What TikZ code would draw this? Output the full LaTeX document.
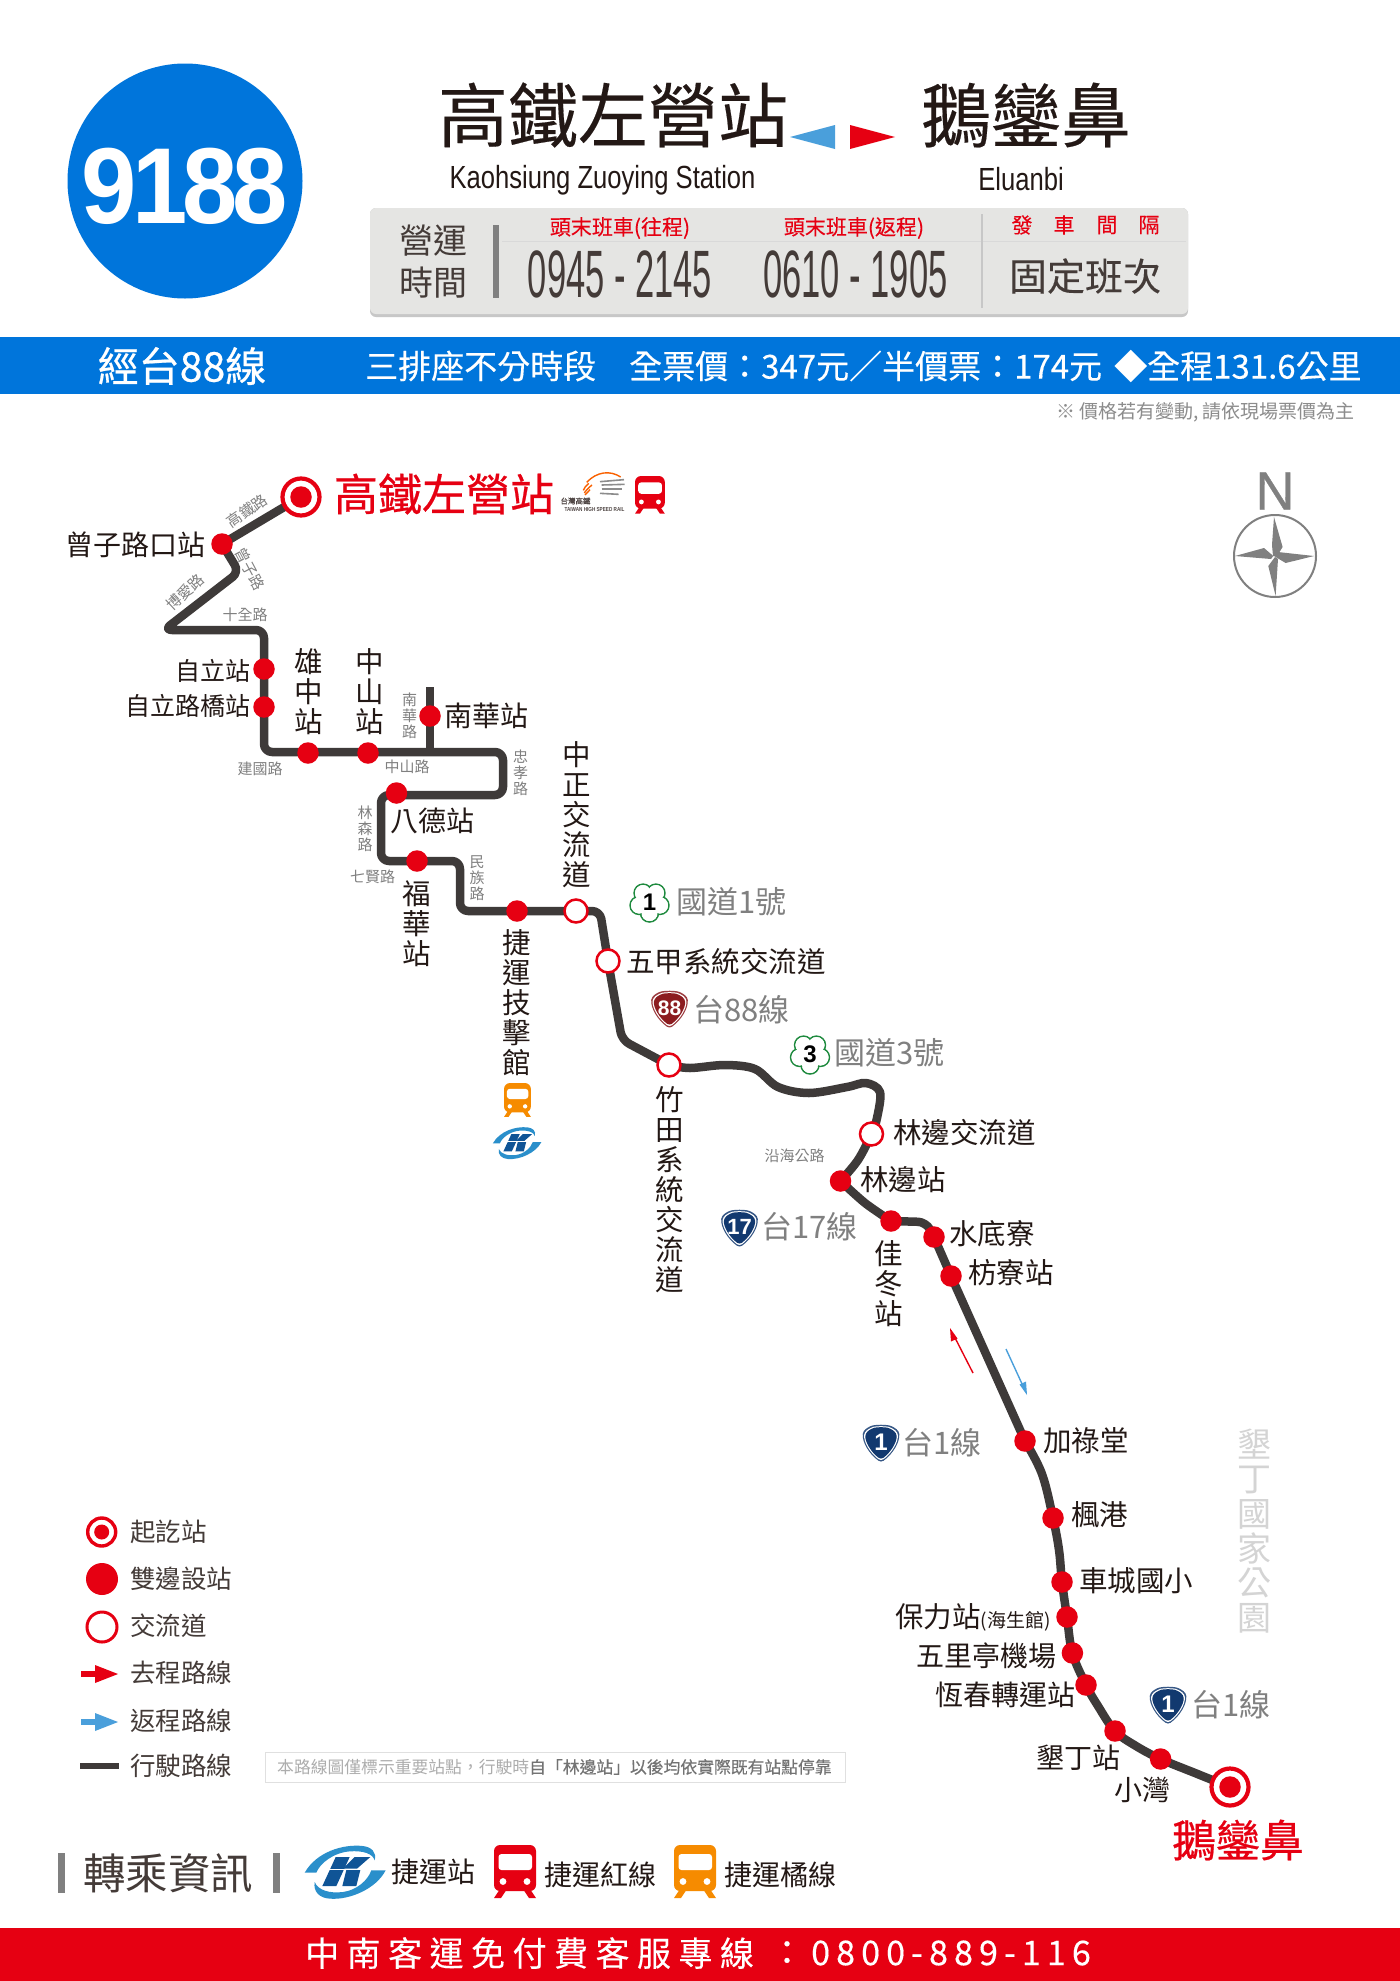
\documentclass[tikz,border=0pt]{standalone}
\usepackage{fontspec}
\usetikzlibrary{calc}
\setmainfont{Noto Sans CJK TC}
\newfontfamily\medf[FakeBold=0.55]{Noto Sans CJK TC}
\newfontfamily\semif[FakeBold=0.25]{Noto Sans CJK TC}
\newfontfamily\latinf{Liberation Sans}
\newfontfamily\northf[FakeBold=0.6]{Liberation Sans}
\newfontfamily\narrowf[FakeStretch=0.515]{Liberation Sans}
\newfontfamily\kaof[FakeStretch=0.8]{Liberation Sans}
\newfontfamily\bignum[FakeStretch=0.92,LetterSpace=-4.5]{Liberation Sans Bold}
\newfontfamily\spaced[LetterSpace=22,FakeBold=0.2]{Noto Sans CJK TC}
\newfontfamily\spacednum[LetterSpace=18,FakeBold=0.35]{Noto Sans CJK TC}
\newcommand{\fs}[1]{\fontsize{#1}{#1}\selectfont}
\definecolor{mainred}{HTML}{E60012}
\definecolor{bandblue}{HTML}{0075DB}
\definecolor{retblue}{HTML}{4A9FDB}
\definecolor{routeg}{HTML}{3E3A39}
\definecolor{ink}{HTML}{231815}
\definecolor{midg}{HTML}{808080}
\definecolor{panelg}{HTML}{E5E5E3}
\definecolor{orangetr}{HTML}{F68B00}
\definecolor{navyr}{HTML}{12396F}
\definecolor{redr}{HTML}{8C1C20}
\definecolor{plumg}{HTML}{1E8A3E}
\definecolor{krlight}{HTML}{2A8FCB}
\definecolor{krdark}{HTML}{0F5496}
\newcommand{\trainmark}[4]{%
 \begin{scope}[shift={(#1,#2)},scale=#3]
  \fill[#4,rounded corners=6] (0,0) rectangle (42,46);
  \fill[white,rounded corners=3] (4.5,9) rectangle (38,25);
  \fill[white] (9,36.5) circle (3.4) (33,36.5) circle (3.4);
  \fill[#4] (6,44) -- (13,44) -- (7,53) -- (0,53) -- cycle;
  \fill[#4] (36,44) -- (29,44) -- (35,53) -- (42,53) -- cycle;
 \end{scope}}
\newcommand{\krtcmark}[3]{%
 \begin{scope}[shift={(#1,#2)},scale=#3,shift={(-136,-110)}]
  \fill[krlight] (15,112) .. controls (50,50) and (130,25) .. (190,32) .. controls (215,35) and (232,50) .. (225,75) .. controls (220,55) and (190,45) .. (150,48) .. controls (100,52) and (60,85) .. (50,112) -- cycle;
  \fill[krlight] (258,105) .. controls (230,160) and (150,195) .. (90,190) .. controls (60,188) and (40,170) .. (45,140) .. controls (55,165) and (90,175) .. (130,170) .. controls (170,165) and (205,135) .. (215,105) -- cycle;
  \fill[krdark] (108,65) -- (150,65) -- (110,152) -- (68,152) -- cycle;
  \fill[krdark] (165,65) -- (212,65) -- (172,100) -- (130,100) -- cycle;
  \fill[krdark] (140,104) -- (182,104) -- (170,152) -- (128,152) -- cycle;
  \draw[white,line width=3*#3] (60,102) -- (205,102);
 \end{scope}}
\newcommand{\shieldmark}[5][21]{%
 \begin{scope}[shift={(#2,#3)}]
  \fill[#4!85!white,rounded corners=3] (-11,-18) .. controls (-4,-19.5) and (4,-19.5) .. (11,-18) -- (18,-13) .. controls (19,-2) and (12,10) .. (0,18.5) .. controls (-12,10) and (-19,-2) .. (-18,-13) -- cycle;
  \fill[white,rounded corners=3] (-10,-16.6) .. controls (-4,-18) and (4,-18) .. (10,-16.6) -- (16.6,-12) .. controls (17.5,-2) and (11,9) .. (0,17) .. controls (-11,9) and (-17.5,-2) .. (-16.6,-12) -- cycle;
  \fill[#4,rounded corners=3] (-9.5,-15.5) .. controls (-4,-17) and (4,-17) .. (9.5,-15.5) -- (15.5,-11) .. controls (16,-2) and (10,8) .. (0,15.6) .. controls (-10,8) and (-16,-2) .. (-15.5,-11) -- cycle;
  \node[text=white,font=\latinf\bfseries\fs{#1},inner sep=0] at (0,-2) {#5};
 \end{scope}}
\newcommand{\plum}[3]{%
 \begin{scope}[shift={(#1,#2)}]
  \foreach \a in {90,162,234,306,18} \draw[plumg,line width=1.5,fill=white] (\a:11) circle (9);
  \foreach \a in {90,162,234,306,18} \fill[white] (\a:11) circle (8);
  \fill[white] (0,0) circle (9);
  \node[text=black,font=\latinf\bfseries\fs{24},inner sep=0] at (0,0.5) {#3};
 \end{scope}}
\tikzset{
 route/.style={draw=routeg,line width=8.5,line cap=round,line join=round},
 st/.style={circle,fill=mainred,minimum size=21.5,inner sep=0},
 ic/.style={circle,fill=white,draw=mainred,line width=2.5,minimum size=23,inner sep=0},
 term/.style={circle,fill=white,draw=mainred,line width=4.2,minimum size=37,inner sep=0},
 lab/.style={text=ink,inner sep=0,font=\fs{28.5}},
 vlab/.style={text=ink,inner sep=0,align=center,font=\fontsize{28.5}{30}\selectfont},
 road/.style={text=midg,inner sep=0,font=\fs{15}},
 vroad/.style={text=midg,inner sep=0,align=center,font=\fontsize{15}{16}\selectfont},
 hwy/.style={text=midg,inner sep=0,font=\fs{31}},
 bandtxt/.style={text=white,inner sep=0,font=\semif\fs{33}},
 legt/.style={text=ink!85,inner sep=0,font=\fs{25.5},anchor=west},
}
\begin{document}
\begin{tikzpicture}[x=1pt,y=-1pt]
\useasboundingbox (0,0) rectangle (1400,1981);
\fill[white] (0,0) rectangle (1400,1981);
% header
\node[circle,fill=bandblue,minimum size=235,inner sep=0] (badge) at (185,181) {};
\node[text=white,inner sep=0,font=\bignum\fs{108}] (num) at (185,186) {9188};
\node[text=ink,inner sep=0,font=\semif\fs{70}] (t1) at (613,115) {高鐵左營站};
\node[text=ink,inner sep=0,font=\semif\fs{70}] (t2) at (1026,115) {鵝鑾鼻};
\fill[retblue] (790,137) -- (835,125) -- (835,149) -- cycle;
\fill[mainred] (895,137) -- (850,125) -- (850,149) -- cycle;
\node[text=ink,inner sep=0,font=\kaof\fs{32}] (t1e) at (602.5,180) {Kaohsiung Zuoying Station};
\node[text=ink,inner sep=0,font=\kaof\fs{32}] (t2e) at (1021,179) {Eluanbi};
% panel
\fill[black!22,rounded corners=6] (370,208) rectangle (1188,317);
\fill[panelg,rounded corners=6] (370,208) rectangle (1188,314);
\draw[black!15,line width=1.2] (502,241.5) -- (1186,241.5);
\draw[black!22,line width=1.2] (982,214) -- (982,308);
\fill[black!50] (493,225) rectangle (499,298);
\node[text=ink!85,inner sep=0,font=\fs{34}] (yy1) at (433,241) {營運};
\node[text=ink!85,inner sep=0,font=\fs{34}] (yy2) at (433,283) {時間};
\node[text=mainred,inner sep=0,font=\semif\fs{21}] (h1) at (620,228) {頭末班車(往程)};
\node[text=mainred,inner sep=0,font=\semif\fs{21}] (h2) at (854,228) {頭末班車(返程)};
\foreach \x/\c [count=\i] in {1022/發,1064/車,1107/間,1149/隔}
  \node[text=mainred,inner sep=0,font=\semif\fs{21}] (h3\i) at (\x,225) {\c};
\node[text=ink!85,inner sep=0,font=\narrowf\fs{67}] (tm1) at (620,274) {0945 - 2145};
\node[text=ink!85,inner sep=0,font=\narrowf\fs{67}] (tm2) at (855.5,274) {0610 - 1905};
\node[text=ink!85,inner sep=0,font=\semif\fs{38}] (fix) at (1085,276) {固定班次};
% blue band
\fill[bandblue] (0,337) rectangle (1400,394);
\node[text=white,inner sep=0,font=\medf\fs{41}] (via) at (182,366) {經台88線};
\node[bandtxt,anchor=west] (b1) at (365,366) {三排座不分時段};
\node[bandtxt,anchor=west] (b2) at (629,366) {全票價：347元／半價票：174元};
\node[bandtxt,anchor=west] (b3) at (1114,366) {◆全程131.6公里};
\node[text=black!45,inner sep=0,font=\fs{19},anchor=east] (noteprice) at (1355,412) {※ 價格若有變動, 請依現場票價為主};
% compass
\node[text=midg,inner sep=0,font=\northf\fs{54}] (north) at (1275,491) {N};
\draw[midg,line width=2] (1275,556) circle (41);
\fill[midg] (1274,517) -- (1282.6,547) -- (1277,556) -- (1273,556) -- (1272,545) -- cycle;
\fill[midg] (1314,556) -- (1285.6,563) -- (1275.6,557) -- (1273,555) -- (1278,552) -- cycle;
\fill[midg] (1275.6,596) -- (1268.3,566) -- (1275,557) -- (1278,559) -- cycle;
\fill[midg] (1235,556) -- (1264,548) -- (1273.3,556) -- (1271,559) -- cycle;
% coordinates
\coordinate (s1) at (301,497);
\coordinate (s2) at (222,544);
\coordinate (k1) at (239,572);
\coordinate (k2) at (164,630);
\coordinate (k3) at (264,630);
\coordinate (s3) at (264,669);
\coordinate (s4) at (264,707);
\coordinate (k4) at (264,752);
\coordinate (s5) at (308,753);
\coordinate (s6) at (368,753);
\coordinate (k5) at (430,752);
\coordinate (s7) at (430,716);
\coordinate (k6) at (430,687);
\coordinate (k7) at (503,752);
\coordinate (k8) at (503,795);
\coordinate (s8) at (396.5,793);
\coordinate (k9) at (381,795);
\coordinate (k10) at (381,861);
\coordinate (s9) at (417,861);
\coordinate (k11) at (460,861);
\coordinate (k12) at (460,911);
\coordinate (s10) at (517,911);
\coordinate (i1) at (576,911);
\coordinate (k13) at (600,911);
\coordinate (i2) at (608,961);
\coordinate (k14) at (622,1040);
\coordinate (i3) at (669,1065);
\coordinate (i4) at (871.5,1134);
\coordinate (s11) at (840.5,1181);
\coordinate (s12) at (891,1221);
\coordinate (s13) at (934,1237);
\coordinate (s14) at (951,1276);
\coordinate (s15) at (1025,1441);
\coordinate (s16) at (1053,1518);
\coordinate (s17) at (1062,1582);
\coordinate (s18) at (1067,1617);
\coordinate (s19) at (1072.4,1653);
\coordinate (s20) at (1086,1685);
\coordinate (s21) at (1115,1731);
\coordinate (s22) at (1160.6,1759);
\coordinate (s23) at (1230,1787);
% route
\draw[route,rounded corners=8] (s1) -- (s2) -- (k1) -- (k2) -- (k3) -- (k4) -- (k7) -- (k8) -- (k9) -- (k10) -- (k11) -- (k12) -- (k13) -- (i2) -- (k14) -- (i3);
\draw[route,line cap=butt] (k5) -- (k6);
\draw[route] plot[smooth,tension=0.55] coordinates {(i3) (690,1068) (725,1065) (755,1069) (778,1087) (809,1093) (847,1087) (866,1083) (880,1092) (877,1118) (i4) (858,1160) (s11)};
\draw[route] plot[smooth,tension=0.5] coordinates {(s11) (865,1203) (s12) };
\draw[route,rounded corners=8] (s12) -- (926,1222) -- (s13) -- (s14) -- (s15);
\draw[route] plot[smooth,tension=0.6] coordinates {(s15) (1042,1474) (s16) (1059,1550) (s17) (s18) (s19) (s20) (1098,1706) (s21) (1136,1746) (s22) (1195,1773) (s23)};
% stations
\foreach \n in {s2,s3,s4,s5,s6,s7,s8,s9,s10,s11,s12,s13,s14,s15,s16,s17,s18,s19,s20,s21,s22}
  \node[st] (n\n) at (\n) {};
\foreach \n in {i1,i2,i3,i4} \node[ic] (n\n) at (\n) {};
\node[term] (ns1) at (s1) {}; \node[st] (ns1c) at (s1) {};
\node[term] (ns23) at (s23) {}; \node[st] (ns23c) at (s23) {};
% labels
\node[text=mainred,inner sep=0,font=\medf\fs{44}] (l1) at (444,494) {高鐵左營站};
\node[text=mainred,inner sep=0,font=\medf\fs{44}] (l23) at (1238,1840) {鵝鑾鼻};
\node[lab,anchor=east,font=\fs{28}] (l2) at (206,545) {曾子路口站};
\node[lab,anchor=east,font=\fs{25}] (l3) at (251,671) {自立站};
\node[lab,anchor=east,font=\fs{25}] (l4) at (251,706) {自立路橋站};
\node[vlab] (l5) at (308.5,692) {雄\\中\\站};
\node[vlab] (l6) at (369.5,692) {中\\山\\站};
\node[lab,anchor=west,font=\fs{28}] (l7) at (444,716) {南華站};
\node[lab,anchor=west,font=\fs{28}] (l8) at (390,821) {八德站};
\node[vlab] (l9) at (417,924) {福\\華\\站};
\node[vlab] (l10) at (517,1003) {捷\\運\\技\\擊\\館};
\node[vlab] (li1) at (576.5,815) {中\\正\\交\\流\\道};
\node[lab,anchor=west] (li2) at (626,962) {五甲系統交流道};
\node[vlab] (li3) at (669.5,1190) {竹\\田\\系\\統\\交\\流\\道};
\node[lab,anchor=west] (li4) at (893,1133) {林邊交流道};
\node[lab,anchor=west] (l11) at (860,1180) {林邊站};
\node[vlab] (l12) at (889,1284) {佳\\冬\\站};
\node[lab,anchor=west] (l13) at (949,1234) {水底寮};
\node[lab,anchor=west] (l14) at (968,1273) {枋寮站};
\node[lab,anchor=west] (l15) at (1043,1441) {加祿堂};
\node[lab,anchor=west] (l16) at (1071,1515) {楓港};
\node[lab,anchor=west] (l17) at (1079,1581) {車城國小};
\node[lab,anchor=east] (l18) at (1051,1617) {保力站{\fs{19}(海生館)}};
\node[lab,anchor=east,font=\fs{28}] (l19) at (1057,1656) {五里亭機場};
\node[lab,anchor=east,font=\fs{28}] (l20) at (1076,1695) {恆春轉運站};
\node[lab,anchor=east,font=\fs{28}] (l21) at (1121,1758) {墾丁站};
\node[lab,anchor=east,font=\fs{28}] (l22) at (1171,1790) {小灣};
% road names
\node[road,rotate=35] (r1) at (247,511) {高鐵路};
\node[road,rotate=-62] (r2) at (250,569) {曾子路};
\node[road,rotate=43] (r3) at (185,592) {博愛路};
\node[road] (r4) at (245,615) {十全路};
\node[road] (r5) at (260,769) {建國路};
\node[road] (r6) at (407,767) {中山路};
\node[vroad] (r7) at (409.5,716) {南\\華\\路};
\node[vroad] (r8) at (520.6,773) {忠\\孝\\路};
\node[vroad] (r9) at (365,829) {林\\森\\路};
\node[road] (r10) at (372.5,877) {七賢路};
\node[vroad] (r11) at (477,878) {民\\族\\路};
\node[road] (r12) at (794.5,1156) {沿海公路};
% highway marks
\plum{649.5}{902}{1}
\node[hwy,anchor=west] (g1) at (676,902) {國道1號};
\shieldmark[21]{669.5}{1010}{redr}{88}
\node[hwy,anchor=west] (g2) at (693,1010) {台88線};
\plum{810}{1054}{3}
\node[hwy,anchor=west] (g3) at (834,1053) {國道3號};
\shieldmark[22]{739.5}{1229}{navyr}{17}
\node[hwy,anchor=west] (g4) at (761,1227) {台17線};
\shieldmark[24]{881}{1444}{navyr}{1}
\node[hwy,anchor=west] (g5) at (902,1443) {台1線};
\shieldmark[24]{1168}{1706}{navyr}{1}
\node[hwy,anchor=west] (g6) at (1191,1705) {台1線};
\node[text=black!17,inner sep=0,align=center,font=\fontsize{34}{34.7}\selectfont] (park) at (1254,1531) {墾\\丁\\國\\家\\公\\園};
% direction arrows
\coordinate (ar1) at (973,1373); \coordinate (ar2) at (950,1328);
\coordinate (ab1) at (1006,1349); \coordinate (ab2) at (1027,1395);
\draw[mainred,line width=1.4] (ar1) -- ($(ar1)!0.85!(ar2)$);
\fill[mainred] (950,1328) -- (957.5,1338.5) -- (951,1341.5) -- cycle;
\draw[retblue,line width=1.4] (ab1) -- (1023,1386);
\fill[retblue] (1027,1395) -- (1019.5,1384.5) -- (1026,1381.5) -- cycle;
% interchange icons
\trainmark{635}{476}{0.71}{mainred}
\trainmark{504}{1083}{0.64}{orangetr}
\krtcmark{517}{1143}{0.2}
% THSR logo
\begin{scope}[shift={(550,465)},scale=1/3]
 \draw[orangetr!70!red,line width=1.4] (110,52) .. controls (140,20) and (180,15) .. (212,36);
 \draw[orangetr!70!red,line width=1.4] (116,55) .. controls (108,62) and (103,68) .. (100,76);
 \draw[orangetr!70!red,line width=1.4] (126,60) .. controls (116,68) and (108,76) .. (103,84);
 \draw[orangetr!70!red,line width=1.4] (120,74) -- (105,90);
 \foreach \a/\b/\c/\d in {150/50/222/44,155/60/224/58,155/72/216/72,150/85/206/88}
   \draw[black!45,line width=1.6] (\a,\b) -- (\c,\d);
\end{scope}
\node[text=ink!80,inner sep=0,font=\semif\fs{7.5}] (th1) at (575.5,501) {台灣高鐵};
\node[text=ink!80,inner sep=0,font=\kaof\bfseries\fs{5.8}] (th2) at (594.5,509.5) {TAIWAN HIGH SPEED RAIL};
% legend
\node[term,minimum size=28,line width=3.4] (lg1) at (101.7,1532) {};
\node[circle,fill=mainred,minimum size=15,inner sep=0] (lg1c) at (101.7,1532) {};
\node[legt] (lt1) at (130,1532) {起訖站};
\node[circle,fill=mainred,minimum size=32,inner sep=0] (lg2) at (102,1579) {};
\node[legt] (lt2) at (130,1579) {雙邊設站};
\node[circle,fill=white,draw=mainred,line width=3,minimum size=30,inner sep=0] (lg3) at (102,1627) {};
\node[legt] (lt3) at (130,1626) {交流道};
\fill[mainred] (81,1671) rectangle (100,1677);
\fill[mainred] (95,1665) -- (118,1674) -- (95,1683) -- cycle;
\node[legt] (lt4) at (130,1673) {去程路線};
\fill[retblue] (81,1719) rectangle (100,1725);
\fill[retblue] (95,1713) -- (118,1722) -- (95,1731) -- cycle;
\node[legt] (lt5) at (130,1721) {返程路線};
\fill[routeg] (80,1763) rectangle (119,1769);
\node[legt] (lt6) at (130,1766) {行駛路線};
\draw[black!12,line width=1] (265,1752) rectangle (845,1782);
\node[inner sep=0,anchor=west,font=\fs{16.8},text=black!32] (nt) at (277,1767) {本路線圖僅標示重要站點，行駛時{\semif\textcolor{black!55}{自「林邊站」以後均依實際既有站點停靠}}};
% transfer row
\fill[black!50] (58,1853) rectangle (65,1893);
\fill[black!50] (273,1853) rectangle (280,1893);
\node[text=ink!85,inner sep=0,font=\fs{42.5}] (tr) at (168,1873) {轉乘資訊};
\krtcmark{345}{1872}{0.333}
\node[lab,anchor=west,font=\fs{28}] (tr1) at (391,1872) {捷運站};
\trainmark{494}{1845}{1}{mainred}
\node[lab,anchor=west,font=\fs{28}] (tr2) at (544,1875) {捷運紅線};
\trainmark{674}{1845}{1}{orangetr}
\node[lab,anchor=west,font=\fs{28}] (tr3) at (724,1875) {捷運橘線};
% bottom band
\fill[mainred] (0,1928) rectangle (1400,1981);
\node[text=white,inner sep=0,font=\spaced\fs{34},anchor=west] (hot) at (305,1953) {中南客運免付費客服專線};
\node[text=white,inner sep=0,font=\semif\fs{34}] (hotc) at (787,1953) {：};
\node[text=white,inner sep=0,font=\spacednum\fs{34},anchor=west] (hotn) at (811,1953) {0800-889-116};
\end{tikzpicture}
\end{document}
